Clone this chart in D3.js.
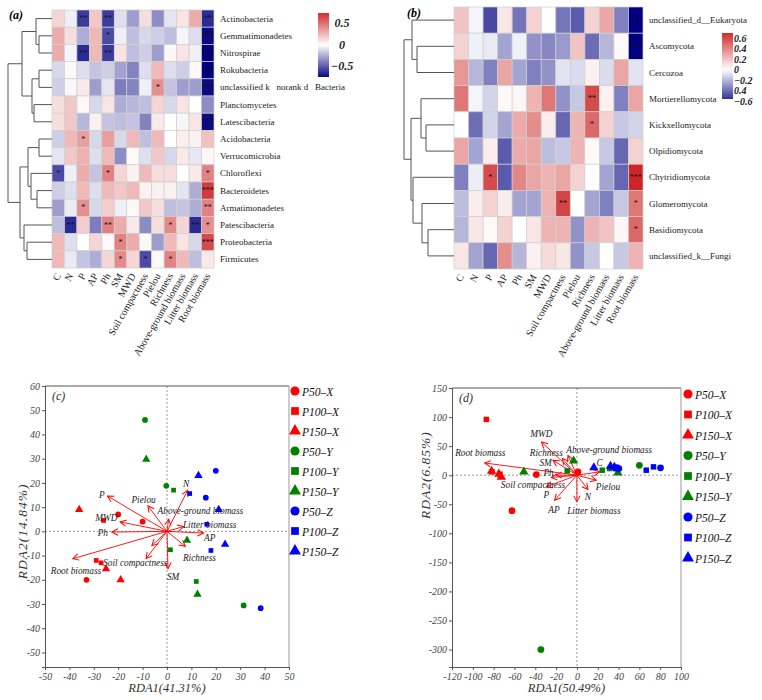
<!DOCTYPE html>
<html><head><meta charset="utf-8">
<script src="https://cdn.jsdelivr.net/npm/d3@7"></script>
<style>body{margin:0;background:#fff}</style>
</head><body>
<svg id="chart" width="762" height="700"></svg>
<script>
// ---------------- DATA ----------------
const envVars = ["C","N","P","AP","Ph","SM","MWD","Soil compactness","Pielou","Richness","Above-ground biomass","Litter biomass","Root biomass"];

const bacteriaTaxa = ["Actinobacteria","Gemmatimonadetes","Nitrospirae","Rokubacteria","unclassified k   norank d   Bacteria","Planctomycetes","Latescibacteria","Acidobacteria","Verrucomicrobia","Chloroflexi","Bacteroidetes","Armatimonadetes","Patescibacteria","Proteobacteria","Firmicutes"];
const bacteriaCorr = [
 [0.15,-0.05,-0.6,0.2,-0.6,-0.1,-0.3,0.12,-0.35,-0.08,0.1,0.3,-0.65],
 [0.3,0.12,-0.25,0.25,-0.55,-0.05,-0.2,-0.12,-0.15,-0.2,-0.03,-0.1,-0.75],
 [0.3,-0.03,-0.65,0.25,-0.6,0.1,-0.2,-0.15,-0.3,0.03,0.1,-0.05,-0.78],
 [-0.12,0.02,-0.1,-0.18,-0.15,-0.28,-0.38,-0.1,0.25,-0.1,-0.15,0.03,-0.78],
 [-0.15,-0.02,0.08,-0.3,-0.08,-0.4,-0.38,-0.05,0.4,-0.18,-0.3,-0.3,-0.75],
 [0.12,0.2,0.03,-0.12,0.1,-0.25,-0.22,-0.2,0.15,-0.12,0.1,0.0,-0.35],
 [0.12,0.2,-0.22,0.05,-0.18,-0.2,-0.18,-0.38,0.08,0.0,-0.03,0.1,-0.75],
 [-0.15,0.25,0.35,-0.12,0.35,-0.12,0.25,-0.2,0.25,0.0,0.06,0.05,0.22],
 [-0.08,0.2,0.28,-0.1,0.25,-0.35,0.02,-0.1,0.2,-0.12,0.08,-0.07,0.03],
 [-0.55,-0.05,0.3,-0.18,0.45,0.15,0.05,0.25,0.12,0.12,0.0,0.08,0.45],
 [-0.15,-0.1,0.25,-0.1,0.25,0.2,0.25,0.05,0.05,0.05,-0.08,-0.25,0.7],
 [-0.3,-0.06,0.4,-0.12,0.18,-0.05,0.03,0.2,0.12,-0.2,-0.18,-0.25,0.45],
 [-0.2,-0.65,0.18,-0.4,0.45,0.3,0.08,-0.35,0.12,0.42,0.15,-0.65,0.4],
 [0.25,-0.1,0.0,0.15,0.03,0.45,0.3,0.02,-0.3,0.25,0.1,-0.12,0.65],
 [0.25,-0.06,-0.18,-0.25,0.15,0.42,0.15,-0.55,0.02,0.45,0.25,-0.2,0.08]
];
// [row, col, stars]
const bacteriaSig = [
 [0,2,"**"],[0,4,"**"],[0,12,"**"],
 [1,4,"*"],[1,12,"***"],
 [2,2,"**"],[2,4,"**"],[2,12,"***"],
 [3,12,"***"],
 [4,8,"*"],[4,12,"***"],
 [6,12,"***"],
 [7,2,"*"],
 [9,0,"*"],[9,4,"*"],[9,12,"*"],
 [10,12,"***"],
 [11,2,"*"],[11,12,"**"],
 [12,1,"**"],[12,4,"**"],[12,9,"*"],[12,11,"**"],[12,12,"*"],
 [13,5,"*"],[13,12,"***"],
 [14,5,"*"],[14,7,"*"],[14,9,"*"]
];
// hclust-style merges: negative = leaf (1-based), positive = earlier merge; third = height
const bacteriaMerge = [
 [-2,-3,13],[-1,1,16],[-4,-5,13],[-6,-7,18],[3,4,20],[2,5,30],
 [-8,-9,13],[-11,-12,15],[-10,8,21],[7,9,24],[-14,-15,25],[-13,11,28],[10,12,32],[6,13,44]
];
const bacteriaLegendTicks = [0.5, 0, -0.5];

const fungiTaxa = ["unclassified_d__Eukaryota","Ascomycota","Cercozoa","Mortierellomycota","Kickxellomycota","Olpidiomycota","Chytridiomycota","Glomeromycota","Basidiomycota","unclassified_k__Fungi"];
const fungiCorr = [
 [0.2,-0.03,-0.5,0.08,-0.38,0.15,0.0,-0.38,-0.45,0.15,0.3,-0.35,-0.7],
 [0.15,-0.04,-0.06,-0.25,-0.04,-0.3,-0.33,-0.28,0.2,-0.4,-0.2,0.02,-0.75],
 [0.35,-0.2,-0.35,0.3,-0.25,-0.35,-0.3,-0.08,-0.1,0.05,-0.1,0.3,-0.08],
 [0.45,-0.03,-0.12,0.02,0.03,0.25,0.45,-0.3,-0.15,0.6,0.05,-0.35,0.3],
 [0.0,-0.4,-0.12,-0.25,0.28,0.38,0.06,-0.42,0.25,0.5,0.15,-0.15,-0.12],
 [0.3,-0.25,0.06,-0.45,0.28,0.3,-0.18,-0.15,0.25,0.02,-0.15,-0.42,0.15],
 [-0.35,-0.05,0.6,-0.45,0.4,0.3,0.25,0.3,0.15,0.0,-0.25,-0.42,0.72],
 [-0.18,0.06,0.15,0.06,-0.25,-0.25,0.25,0.62,0.0,-0.25,-0.35,-0.15,0.45],
 [-0.2,0.08,0.02,0.15,0.0,0.08,0.25,0.25,-0.3,0.25,0.2,0.03,0.5],
 [0.08,-0.25,-0.42,0.38,-0.2,0.05,0.12,0.08,-0.3,-0.15,0.0,-0.15,0.25]
];
const fungiSig = [
 [0,12,"**"],[1,12,"***"],[3,9,"**"],[4,9,"*"],[6,2,"*"],[6,12,"***"],[7,7,"**"],[7,12,"*"],[8,12,"*"]
];
const fungiMerge = [
 [-2,-3,37],[-1,1,42],[-5,-6,28],[-4,3,33],[-9,-10,26],[-8,5,32],[-7,6,41],[4,7,43],[2,8,50]
];
const fungiLegendTicks = [0.6,0.4,0.2,0,-0.2,-0.4,-0.6];
const fungiLegendText = ["0.6","0.4","0.2","0","\u22120.2","0.4","\u22120.6"];

const groups = ["P50-X","P100-X","P150-X","P50-Y","P100-Y","P150-Y","P50-Z","P100-Z","P150-Z"];

// RDA (c) bacteria
const rdaBactSites = [
 ["P50-X",-20,7],["P50-X",-10,4],["P50-X",-33,-20],
 ["P100-X",-26,4.5],["P100-X",-29,-12],["P100-X",-27,-13],
 ["P150-X",-36,9],["P150-X",-25,-15.5],["P150-X",-19,-20],
 ["P50-Y",-9,46],["P50-Y",-0.3,18.8],["P50-Y",31.4,-30.6],
 ["P100-Y",2.7,17],["P100-Y",1.4,-7.6],["P100-Y",12,-20.7],
 ["P150-Y",-8.5,29.7],["P150-Y",8.2,-3.7],["P150-Y",12.5,-26],
 ["P50-Z",20,25],["P50-Z",15.9,13.9],["P50-Z",38.4,-31.7],
 ["P100-Z",9.3,15.6],["P100-Z",16.3,2.9],["P100-Z",18,-7.9],
 ["P150-Z",12.9,23],["P150-Z",21.2,9],["P150-Z",23.8,-5.4]
];
const rdaBactArrows = [
 ["P",-24.4,14.6],["Pielou",-7.8,10.5],["N",8.5,17],["Above-ground biomass",0.7,5],
 ["Litter biomass",6.8,2],["C",-6.2,-5.9],["AP",15,-0.7],["MWD",-19.2,3.9],["Ph",-22.6,-0.3],
 ["Root biomass",-38.6,-11.3],["Soil compactness",-8.6,-11.3],["SM",0.4,-15.4],["Richness",7.5,-6.2]
];
const rdaBactLabels = [
 ["P",-26.7,15.3],["Pielou",-9.6,13.2],["N",7.8,19.7],["Above-ground biomass",13.7,8.4],
 ["MWD",-24.9,5.5],["Litter biomass",17.5,2.8],["Ph",-26.3,-0.7],["AP",17.5,-2.6],
 ["Root biomass",-37.3,-16.4],["Soil compactness",-13,-13],["Richness",13.3,-10.9],["SM",2.5,-18.9]
];
const rdaBactXTicks = [-50,-40,-30,-20,-10,0,10,20,30,40,50];
const rdaBactYTicks = [-50,-40,-30,-20,-10,0,10,20,30,40,50,60];

// RDA (d) fungi
const rdaFungiSites = [
 ["P50-X",-39,1],["P50-X",-62.4,-61],["P50-X",1,5.7],
 ["P100-X",-87,96],["P100-X",-81.6,5.7],["P100-X",-74,1.7],
 ["P150-X",-82,7],["P150-X",-75,2],["P150-X",-72.6,-3],
 ["P50-Y",60,17],["P50-Y",38.7,11.4],["P50-Y",-34.6,-300],
 ["P100-Y",-9.3,7.4],["P100-Y",24.3,8.6],["P100-Y",31.4,11.4],
 ["P150-Y",-51,5.7],["P150-Y",-3.2,24.6],["P150-Y",39.4,4],
 ["P50-Z",38.4,13],["P50-Z",80.3,12.6],["P50-Z",40.3,11.4],
 ["P100-Z",66.6,8.6],["P100-Z",73.6,14.3],["P100-Z",37,11.4],
 ["P150-Z",16.3,13],["P150-Z",32.3,15.4],["P150-Z",36,14]
];
const rdaFungiArrows = [
 ["Root biomass",-88.6,21],["MWD",-34,57],["Richness",-14,28.6],["SM",-23,25.7],
 ["Above-ground biomass",-8.6,34],["Ph",-20,0],["Soil compactness",-24.6,-4],["P",-29.4,-20],
 ["AP",-21.4,-43],["Litter biomass",0,-45.7],["N",10.6,-24.6],["Pielou",18.6,-8.6],["C",21.8,5.7]
];
const rdaFungiLabels = [
 ["MWD",-34.2,71.4],["Root biomass",-92.8,38.9],["Richness",-29.4,38.9],["Above-ground biomass",31,44.6],
 ["SM",-30,21.7],["Ph",-27.2,4.6],["C",21.8,21.7],["Soil compactness",-42.2,-17],["P",-29.4,-34.3],
 ["AP",-22,-58.9],["N",10.6,-37],["Pielou",29.8,-20],["Litter biomass",16.3,-61]
];
const rdaFungiXTicks = [-120,-100,-80,-60,-40,-20,0,20,40,60,80,100];
const rdaFungiYTicks = [-300,-250,-200,-150,-100,-50,0,50,100,150];

// ---------------- DRAWING ----------------
const svg = d3.select("#chart");
const serif = "'Liberation Serif','Times New Roman',serif";
svg.append("rect").attr("width",762).attr("height",700).attr("fill","#fff");
const defs = svg.append("defs");

function heatmap(o){
  const nR = o.taxa.length, nC = envVars.length;
  const x = d3.scaleBand().domain(d3.range(nC)).range([o.left, o.right]);
  const y = d3.scaleBand().domain(d3.range(nR)).range([o.top, o.bottom]);
  const g = svg.append("g");
  o.corr.forEach((row,i)=>row.forEach((v,j)=>{
    g.append("rect").attr("x",x(j)).attr("y",y(i)).attr("width",x.bandwidth()).attr("height",y.bandwidth())
      .attr("fill",o.color(v)).attr("stroke","#cfcfcf").attr("stroke-width",0.7);
  }));
  o.sig.forEach(([i,j,s])=>{
    g.append("text").attr("x",x(j)+x.bandwidth()/2).attr("y",y(i)+y.bandwidth()/2+2.5)
      .attr("text-anchor","middle").attr("font-family",serif).attr("font-size",8).attr("fill","#111").text(s);
  });
  o.taxa.forEach((t,i)=>{
    g.append("text").attr("x",o.right+o.labelGap).attr("y",y(i)+y.bandwidth()/2+3)
      .attr("font-family",serif).attr("font-size",9).attr("fill","#222").style("white-space","pre").text(t);
  });
  envVars.forEach((v,j)=>{
    const cx = x(j)+x.bandwidth()/2, cy = o.bottom+6;
    g.append("text").attr("transform",`translate(${cx},${cy}) rotate(-60)`).attr("text-anchor","end")
      .attr("dy","0.35em").attr("font-family",serif).attr("font-size",10).attr("fill","#222").text(v);
  });
  // dendrogram
  const hx = d3.scaleLinear().domain([0,o.maxH]).range([o.left, o.dendroLeft]);
  const nodes=[];
  const info = id => id<0 ? {y:y(-id-1)+y.bandwidth()/2, h:0} : nodes[id-1];
  o.merges.forEach(([a,b,h])=>{
    const A=info(a), B=info(b);
    const seg=(x1,y1,x2,y2)=>g.append("line").attr("x1",x1).attr("y1",y1).attr("x2",x2).attr("y2",y2)
      .attr("stroke","#555").attr("stroke-width",1);
    seg(hx(h),A.y,hx(h),B.y); seg(hx(h),A.y,hx(A.h),A.y); seg(hx(h),B.y,hx(B.h),B.y);
    nodes.push({y:(A.y+B.y)/2,h});
  });
  // legend
  const gid = "grad"+o.id;
  const grad = defs.append("linearGradient").attr("id",gid).attr("x1",0).attr("y1",0).attr("x2",0).attr("y2",1);
  d3.range(0,1.0001,0.05).forEach(t=>{
    grad.append("stop").attr("offset",t).attr("stop-color",o.color(o.legMax + (o.legMin-o.legMax)*t));
  });
  g.append("rect").attr("x",o.legX).attr("y",o.legTop).attr("width",o.legW).attr("height",o.legBottom-o.legTop).attr("fill",`url(#${gid})`);
  const vy = d3.scaleLinear().domain([o.legMax,o.legMin]).range([o.legTop,o.legBottom]);
  o.legTicks.forEach((v,k)=>{
    g.append("text").attr("x",o.legTextX).attr("y",vy(v)+3.5).attr("text-anchor",o.legAnchor)
      .attr("font-family",serif).attr("font-size",o.legFont).attr("font-weight","bold").attr("font-style","italic")
      .attr("fill","#222").text(o.legText ? o.legText[k] : (v<0?"\u2212"+Math.abs(v):String(v)));
  });
  g.append("text").attr("x",o.tagX).attr("y",o.tagY).attr("font-family",serif).attr("font-size",12)
    .attr("font-weight","bold").attr("font-style","italic").text(o.tag);
}

const colA = d3.scaleLinear().domain([-0.78,0,0.78]).range(["#000080","#ffffff","#CD2626"]).clamp(true);
heatmap({id:"a",taxa:bacteriaTaxa,corr:bacteriaCorr,sig:bacteriaSig,merges:bacteriaMerge,
  left:52,right:214,top:10,bottom:268,labelGap:6,dendroLeft:8,maxH:44,color:colA,
  legX:318,legW:11,legTop:13,legBottom:77,legMax:0.75,legMin:-0.75,legTicks:bacteriaLegendTicks,
  legTextX:342,legAnchor:"middle",legFont:12,tag:"(a)",tagX:9,tagY:19});

const colB = d3.scaleLinear().domain([-0.7,0,0.72]).range(["#000080","#ffffff","#CD2626"]).clamp(true);
heatmap({id:"b",taxa:fungiTaxa,corr:fungiCorr,sig:fungiSig,merges:fungiMerge,
  left:454,right:643,top:7,bottom:269,labelGap:6,dendroLeft:404,maxH:50,color:colB,
  legX:722,legW:11,legTop:33,legBottom:99,legMax:0.7,legMin:-0.56,legTicks:fungiLegendTicks,legText:fungiLegendText,
  legTextX:734,legAnchor:"start",legFont:10,tag:"(b)",tagX:407,tagY:17});

// ------- RDA -------
const groupColor = g => g.endsWith("X") ? "#ff0000" : g.endsWith("Y") ? "#008000" : "#0000ff";
const groupShape = g => g.startsWith("P50") ? d3.symbolCircle : g.startsWith("P100") ? d3.symbolSquare : d3.symbolTriangle;

defs.append("marker").attr("id","arrowHead").attr("viewBox","-7 -4 8 8").attr("refX",0).attr("refY",0)
  .attr("markerWidth",8).attr("markerHeight",8).attr("markerUnits","userSpaceOnUse").attr("orient","auto")
  .append("path").attr("d","M-6,-3.2 L0,0 L-6,3.2").attr("fill","none").attr("stroke","#ff0000").attr("stroke-width",1);

function rda(p){
  const x = d3.scaleLinear().domain(p.xDomain).range([p.left,p.right]);
  const y = d3.scaleLinear().domain(p.yDomain).range([p.bottom,p.top]);
  const g = svg.append("g");
  g.append("line").attr("x1",x(0)).attr("x2",x(0)).attr("y1",p.top).attr("y2",p.bottom).attr("stroke","#999").attr("stroke-dasharray","2,2");
  g.append("line").attr("x1",p.left).attr("x2",p.right).attr("y1",y(0)).attr("y2",y(0)).attr("stroke","#999").attr("stroke-dasharray","2,2");
  g.append("line").attr("x1",p.left).attr("x2",p.right).attr("y1",p.top).attr("y2",p.top).attr("stroke","#555");
  g.append("line").attr("x1",p.right).attr("x2",p.right).attr("y1",p.top).attr("y2",p.bottom).attr("stroke","#aaa").attr("stroke-width",1.2);
  const ax = g.append("g").attr("transform",`translate(0,${p.bottom})`)
    .call(d3.axisBottom(x).tickValues(p.xTicks).tickSize(3).tickPadding(3).tickFormat(d=>String(d)));
  const ay = g.append("g").attr("transform",`translate(${p.left},0)`)
    .call(d3.axisLeft(y).tickValues(p.yTicks).tickSize(3).tickPadding(2).tickFormat(d=>String(d)));
  [ax,ay].forEach(a=>{
    a.selectAll("path,line").attr("stroke","#555");
    a.selectAll("text").attr("font-family",serif).attr("font-style","italic").attr("font-size",10).attr("fill","#444");
  });
  p.arrows.forEach(([n,vx,vy])=>{
    g.append("line").attr("x1",x(0)).attr("y1",y(0)).attr("x2",x(vx)).attr("y2",y(vy))
      .attr("stroke","#ff0000").attr("stroke-width",0.9).attr("marker-end","url(#arrowHead)");
  });
  p.sites.forEach(([gr,vx,vy])=>{
    const sh = groupShape(gr);
    const size = sh===d3.symbolSquare ? p.sq : sh===d3.symbolTriangle ? p.tri : p.circ;
    g.append("path").attr("d",d3.symbol(sh,size)()).attr("transform",`translate(${x(vx)},${y(vy)})`).attr("fill",groupColor(gr));
  });
  p.labels.forEach(([t,vx,vy])=>{
    g.append("text").attr("x",x(vx)).attr("y",y(vy)).attr("dy","0.35em").attr("text-anchor","middle")
      .attr("font-family",serif).attr("font-style","italic").attr("font-size",9.3).attr("fill","#222").text(t);
  });
  g.append("text").attr("x",p.left+7).attr("y",p.top+14).attr("font-family",serif).attr("font-style","italic")
    .attr("font-size",12).attr("fill","#333").text(p.tag);
  g.append("text").attr("x",(p.left+p.right)/2).attr("y",p.bottom+25).attr("text-anchor","middle")
    .attr("font-family",serif).attr("font-style","italic").attr("font-size",12.5).attr("fill","#333").text(p.xTitle);
  g.append("text").attr("transform",`translate(${p.yTitleX},${y(0)}) rotate(-90)`).attr("text-anchor","middle")
    .attr("font-family",serif).attr("font-style","italic").attr("font-size",13.5).attr("letter-spacing",1).attr("fill","#333").text(p.yTitle);
  groups.forEach((gr,i)=>{
    const ly = p.legY + i*p.legStep;
    const sh = groupShape(gr);
    const size = sh===d3.symbolSquare ? 60 : sh===d3.symbolTriangle ? 62 : 66;
    g.append("path").attr("d",d3.symbol(sh,size)()).attr("transform",`translate(${p.legX},${ly})`).attr("fill",groupColor(gr));
    g.append("text").attr("x",p.legX+7).attr("y",ly+4.5).attr("font-family",serif).attr("font-style","italic")
      .attr("font-size",11.5).attr("fill","#111").text(gr.replace("-","\u2013"));
  });
}

rda({xDomain:[-50,50],yDomain:[-56,60],left:45,right:289,top:386,bottom:667,
  xTicks:rdaBactXTicks,yTicks:rdaBactYTicks,arrows:rdaBactArrows,sites:rdaBactSites,labels:rdaBactLabels,
  circ:26,sq:22,tri:30,tag:"(c)",xTitle:"RDA1(41.31%)",yTitle:"RDA2(14.84%)",yTitleX:27,
  legX:295,legY:391,legStep:20});

rda({xDomain:[-120,100],yDomain:[-330,150],left:452,right:681,top:388,bottom:667,
  xTicks:rdaFungiXTicks,yTicks:rdaFungiYTicks,arrows:rdaFungiArrows,sites:rdaFungiSites,labels:rdaFungiLabels,
  circ:36,sq:30,tri:38,tag:"(d)",xTitle:"RDA1(50.49%)",yTitle:"RDA2(6.85%)",yTitleX:430,
  legX:688,legY:394,legStep:20.5});
</script>
</body></html>
